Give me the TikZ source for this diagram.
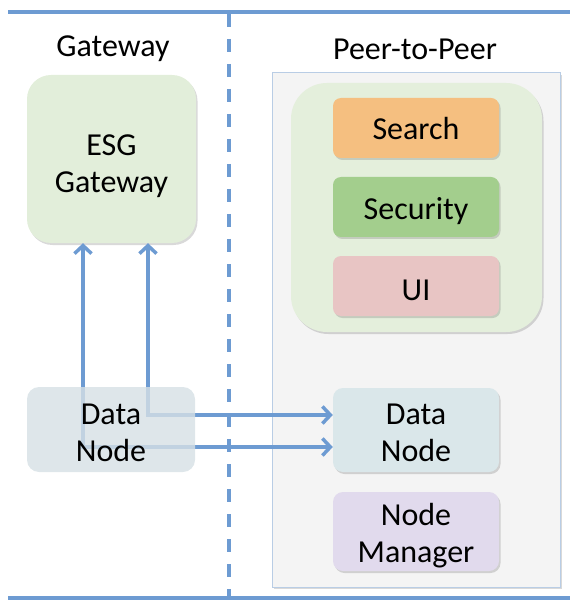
\documentclass[tikz,border=0pt]{standalone}
\usepackage{fontspec}
\setmainfont{Carlito}
\usetikzlibrary{arrows.meta,shadows}
\definecolor{lineblue}{RGB}{109,155,210}
\definecolor{graybox}{RGB}{244,244,244}
\definecolor{grayedge}{RGB}{185,205,229}
\definecolor{esgfill}{RGB}{226,238,218}
\definecolor{contfill}{RGB}{228,239,220}
\definecolor{searchfill}{RGB}{245,191,128}
\definecolor{secfill}{RGB}{163,206,141}
\definecolor{uifill}{RGB}{232,197,196}
\definecolor{ldnfill}{RGB}{214,224,229}
\definecolor{rdnfill}{RGB}{218,231,234}
\definecolor{nmfill}{RGB}{225,218,237}
\tikzset{
  lbl/.style={font=\fontsize{32}{37}\selectfont, align=center, inner sep=0pt},
  shad/.style={drop shadow={shadow xshift=1.5pt, shadow yshift=-2pt, opacity=0.25, fill=black!60}},
  modbox/.style={minimum width=166pt, minimum height=60pt, inner sep=0pt, rounded corners=8pt, shad},
  bigbox/.style={inner sep=0pt, rounded corners=24pt, shad},
  conn/.style={draw=lineblue, line width=3.5pt, {Straight Barb[length=8pt,width=17pt]}-{Straight Barb[length=8pt,width=17pt]}},
}
\begin{document}
\begin{tikzpicture}[x=1pt,y=-1pt]
\useasboundingbox (0,0) rectangle (570,601);
% frame lines
\coordinate (tl) at (8,12); \coordinate (tr) at (570,12);
\coordinate (bl) at (8,598); \coordinate (br) at (570,598);
\coordinate (dt) at (229,14); \coordinate (db) at (229,598);
\draw[lineblue, line width=3.5pt] (tl) -- (tr);
\draw[lineblue, line width=3.5pt] (bl) -- (br);
\draw[lineblue, line width=4.5pt, dash pattern=on 13pt off 12pt] (dt) -- (db);
% titles
\node[lbl] (gwt) at (113,49) {Gateway};
\node[lbl] (p2pt) at (415,49) {Peer-to-Peer};
% gray peer box
\node[draw=grayedge, line width=1pt, fill=graybox, minimum width=288pt, minimum height=514pt, inner sep=0pt, shad] (pbox) at (416,330) {};
% container
\node[fill=contfill, minimum width=251pt, minimum height=249pt, rounded corners=36pt, inner sep=0pt, shad] (cont) at (416.5,207.5) {};
% modules
\node[modbox, fill=searchfill] (search) at (416,128) {};
\node[lbl] (searcht) at ([yshift=-1pt]search.center) {Search};
\node[modbox, fill=secfill] (sec) at (416,207) {};
\node[lbl] (sect) at ([yshift=-4pt]sec.center) {Security};
\node[modbox, fill=uifill] (ui) at (416,286) {};
\node[lbl] (uit) at ([yshift=-4pt]ui.center) {UI};
% ESG gateway
\node[bigbox, fill=esgfill, minimum width=169pt, minimum height=168pt] (esg) at (111.5,159) {};
\node[lbl] (esgt) at ([yshift=-7pt]esg.center) {ESG\\Gateway};
% right data node
\node[modbox, fill=rdnfill, minimum height=84pt, rounded corners=10pt] (rdn) at (416,430) {};
\node[lbl] (rdnt) at ([yshift=-2.5pt]rdn.center) {Data\\Node};
% node manager
\node[modbox, fill=nmfill, minimum height=79pt, rounded corners=10pt] (nm) at (416,531.5) {};
\node[lbl] (nmt) at ([yshift=-4pt]nm.center) {Node\\Manager};
% connectors
\draw[conn] ([xshift=36.5pt]esg.south) |- ([yshift=15pt]rdn.west);
\draw[conn] ([xshift=-28.5pt]esg.south) |- ([yshift=-17pt]rdn.west);
% left data node (semi-transparent over connectors)
\node[fill=ldnfill, fill opacity=0.8, minimum width=168pt, minimum height=85pt, inner sep=0pt, rounded corners=12pt] (ldn) at (111,429.5) {};
\node[lbl] (ldnt) at ([yshift=-3pt]ldn.center) {Data\\Node};
\end{tikzpicture}
\end{document}
